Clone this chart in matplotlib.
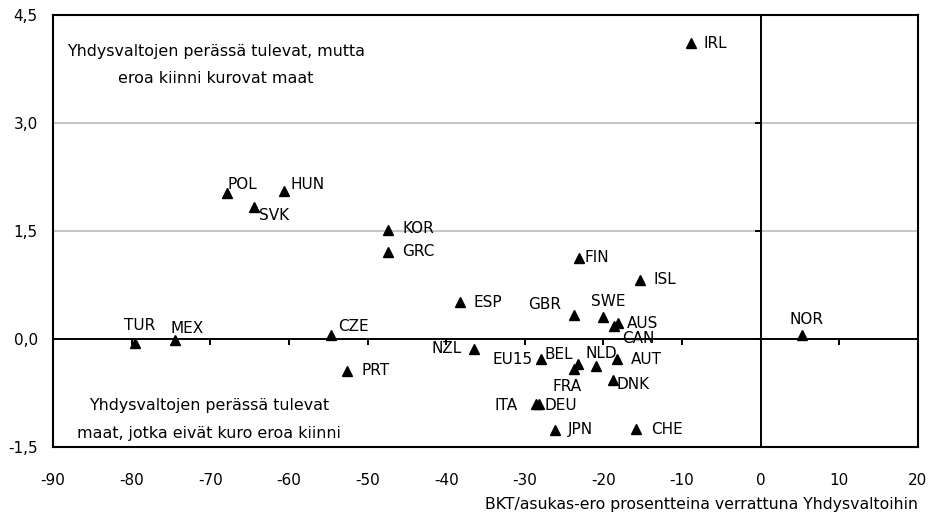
import matplotlib.pyplot as plt
from matplotlib.ticker import FuncFormatter

plt.rcParams['font.family'] = ['DejaVu Sans']
plt.rcParams['axes.unicode_minus'] = False

# data
countries = ['IRL', 'POL', 'HUN', 'SVK', 'KOR', 'GRC', 'FIN', 'ISL', 'ESP', 'GBR',
             'SWE', 'AUS', 'CAN', 'NOR', 'TUR', 'MEX', 'CZE', 'NZL', 'EU15', 'BEL',
             'FRA', 'NLD', 'AUT', 'DNK', 'PRT', 'ITA', 'DEU', 'JPN', 'CHE']
gdp_gap = [-8.9, -67.9, -60.6, -64.4, -47.4, -47.4, -23.1, -15.4, -38.3, -23.7,
           -20.0, -18.2, -18.7, 5.2, -79.6, -74.5, -54.7, -36.5, -27.9, -23.3,
           -23.8, -21.0, -18.3, -18.8, -52.6, -28.6, -28.2, -26.2, -15.9]
growth_diff = [4.11, 2.03, 2.06, 1.83, 1.52, 1.21, 1.12, 0.82, 0.51, 0.34,
               0.31, 0.22, 0.18, 0.06, -0.05, -0.02, 0.06, -0.14, -0.28, -0.35,
               -0.42, -0.37, -0.28, -0.57, -0.44, -0.90, -0.90, -1.26, -1.25]

x_ticks = [-90, -80, -70, -60, -50, -40, -30, -20, -10, 0, 10, 20]
y_ticks = [-1.5, 0.0, 1.5, 3.0, 4.5]

top_note = ['Yhdysvaltojen perässä tulevat, mutta', 'eroa kiinni kurovat maat']
bottom_note = ['Yhdysvaltojen perässä tulevat', 'maat, jotka eivät kuro eroa kiinni']
x_title = 'BKT/asukas-ero prosentteina verrattuna Yhdysvaltoihin'

# label placement (offset in pixels, horizontal alignment)
label_pos = {
    'IRL': (13, 0, 'left'), 'POL': (1, 8, 'left'), 'HUN': (6, 6, 'left'),
    'SVK': (5, -8, 'left'), 'KOR': (15, 1, 'left'), 'GRC': (14, 0, 'left'),
    'FIN': (5, 1, 'left'), 'ISL': (14, 0, 'left'), 'ESP': (14, 0, 'left'),
    'GBR': (-13, 10, 'right'), 'SWE': (5, 15, 'center'), 'AUS': (9, 0, 'left'),
    'CAN': (8, -12, 'left'), 'NOR': (5, 15, 'center'), 'TUR': (5, 17, 'center'),
    'MEX': (12, 12, 'center'), 'CZE': (8, 8, 'left'), 'NZL': (-12, 1, 'right'),
    'EU15': (-9, 0, 'right'), 'BEL': (-4, 10, 'right'), 'FRA': (-7, -17, 'center'),
    'NLD': (6, 12, 'center'), 'AUT': (14, 0, 'left'), 'DNK': (4, -4, 'left'),
    'PRT': (14, 0, 'left'), 'ITA': (-18, -2, 'right'), 'DEU': (6, -2, 'left'),
    'JPN': (13, 0, 'left'), 'CHE': (15, 0, 'left'),
}

fs = 11
fig = plt.figure(figsize=(9.29, 5.19), dpi=100)
pos = [53 / 929, 1 - 447 / 519, 865 / 929, 432 / 519]

# outer frame with tick labels
ax = fig.add_axes(pos)
ax.set_xlim(-90, 20)
ax.set_ylim(-1.5, 4.5)
ax.set_xticks(x_ticks)
ax.set_yticks(y_ticks)
ax.yaxis.set_major_formatter(FuncFormatter(lambda v, p: ('%.1f' % v).replace('.', ',')))
ax.tick_params(length=0, labelsize=fs, colors='black')
ax.tick_params(axis='x', pad=19)
ax.tick_params(axis='y', pad=11)
for s in ax.spines.values():
    s.set_linewidth(1.5)
for yv in [1.5, 3.0]:
    ax.axhline(yv, color='#c0c0c0', lw=1.3, zorder=0)

# axes crossing at zero with their own ticks
ax0 = fig.add_axes(pos)
ax0.patch.set_visible(False)
ax0.set_xlim(-90, 20)
ax0.set_ylim(-1.5, 4.5)
ax0.set_xticks(x_ticks)
ax0.set_yticks(y_ticks)
ax0.spines['left'].set_position(('data', 0))
ax0.spines['bottom'].set_position(('data', 0))
ax0.spines['top'].set_visible(False)
ax0.spines['right'].set_visible(False)
for s in ['left', 'bottom']:
    ax0.spines[s].set_linewidth(1.4)
ax0.tick_params(direction='out', length=4, width=1.4, labelleft=False, labelbottom=False)

ax0.plot(gdp_gap, growth_diff, '^', color='black', ms=7.5, zorder=3, clip_on=False)
for c, x, y in zip(countries, gdp_gap, growth_diff):
    dx, dy, ha = label_pos[c]
    ax0.annotate(c, (x, y), xytext=(dx, dy), textcoords='offset pixels',
                 ha=ha, va='center', fontsize=fs)

nfs = 11.4
ax0.text(-69.3, 3.93, top_note[0], ha='center', va='baseline', fontsize=nfs)
ax0.text(-69.3, 3.55, top_note[1], ha='center', va='baseline', fontsize=nfs)
ax0.text(-70.2, -0.99, bottom_note[0], ha='center', va='baseline', fontsize=nfs)
ax0.text(-70.2, -1.38, bottom_note[1], ha='center', va='baseline', fontsize=nfs)

fig.text(918 / 929, 1 - 505 / 519, x_title, ha='right', va='center', fontsize=11.3)

fig.savefig('out.png', dpi=100)
